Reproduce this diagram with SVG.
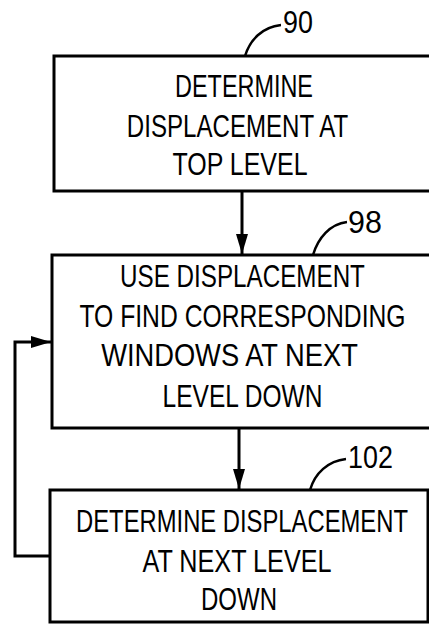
<svg xmlns="http://www.w3.org/2000/svg" width="429" height="625" viewBox="0 0 429 625">
<style>
.box{fill:#fff;stroke:#000;stroke-width:3}
.t{font-family:"Liberation Sans",Arial,sans-serif;font-size:32px;fill:#000;text-anchor:middle}
.conn{fill:none;stroke:#000;stroke-width:3}
.lead{fill:none;stroke:#000;stroke-width:2.5}
</style>
<defs>
<marker id="ah" markerUnits="userSpaceOnUse" markerWidth="20" markerHeight="12" refX="20" refY="6" orient="auto">
<path d="M0,0 L20,6 L0,12 z" fill="#000"/>
</marker>
</defs>
<rect width="429" height="625" fill="#fff"/>
<g id="node90">
<rect class="box" x="54" y="56" width="390" height="135"/>
<text class="t" transform="translate(244,97) scale(0.732,1)">DETERMINE</text>
<text class="t" transform="translate(237.5,137) scale(0.753,1)">DISPLACEMENT AT</text>
<text class="t" transform="translate(240,175) scale(0.78,1)">TOP LEVEL</text>
<path class="lead" d="M245,56 C250,40 262,27 281,25"/>
<text class="t" transform="translate(298,33) scale(0.84,1)">90</text>
</g>
<g id="node98">
<rect class="box" x="52" y="255" width="392" height="173"/>
<text class="t" transform="translate(242.5,287) scale(0.757,1)">USE DISPLACEMENT</text>
<text class="t" transform="translate(242.5,327) scale(0.772,1)">TO FIND CORRESPONDING</text>
<text class="t" transform="translate(229.5,366) scale(0.853,1)">WINDOWS AT NEXT</text>
<text class="t" transform="translate(242.5,407) scale(0.767,1)">LEVEL DOWN</text>
<path class="lead" d="M313,255 C318,238 330,224 347,222"/>
<text class="t" transform="translate(365,233) scale(0.95,1)">98</text>
</g>
<g id="node102">
<rect class="box" x="50" y="490" width="378" height="132"/>
<text class="t" transform="translate(242,532) scale(0.744,1)">DETERMINE DISPLACEMENT</text>
<text class="t" transform="translate(237,572) scale(0.788,1)">AT NEXT LEVEL</text>
<text class="t" transform="translate(239,610) scale(0.75,1)">DOWN</text>
<path class="lead" d="M310,490 C315,473 328,461 346,459"/>
<text class="t" transform="translate(370.5,468) scale(0.84,1)">102</text>
</g>
<g id="connectors">
<path class="conn" d="M242,191 V254" marker-end="url(#ah)"/>
<path class="conn" d="M239,428 V489" marker-end="url(#ah)"/>
<path class="conn" d="M50,556 H15 V342 H51" marker-end="url(#ah)"/>
</g>
</svg>
